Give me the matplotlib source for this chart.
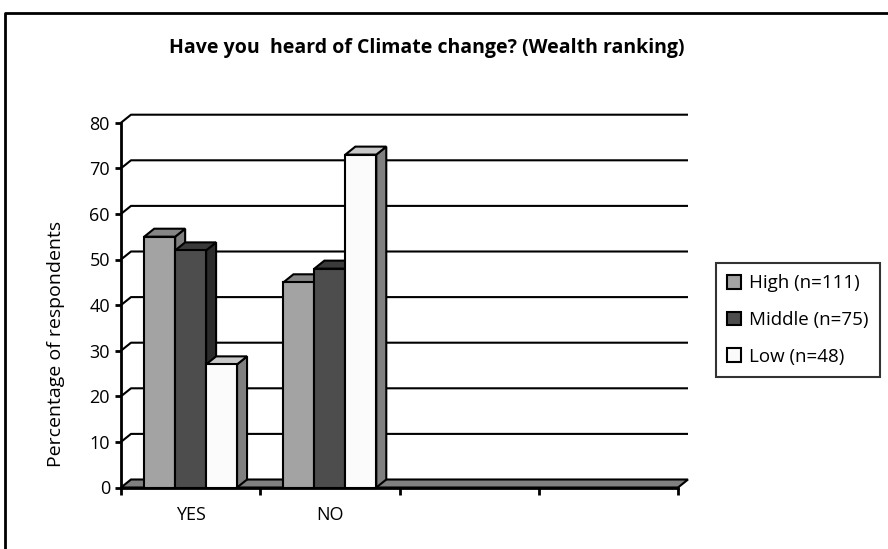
import matplotlib
matplotlib.use("Agg")
import matplotlib.pyplot as plt
from matplotlib.patches import Polygon, Patch
from matplotlib.lines import Line2D
from matplotlib.transforms import Bbox, TransformedBbox

# ---- data -------------------------------------------------------------
categories = ["YES", "NO", "", ""]
series_names = ["High (n=111)", "Middle (n=75)", "Low (n=48)"]
high = [55, 45]
middle = [52, 48]
low = [27, 73]
series_values = [high, middle, low]
y_ticks = [0, 10, 20, 30, 40, 50, 60, 70, 80]
title = "Have you  heard of Climate change? (Wealth ranking)"
y_label = "Percentage of respondents"

# ---- styling ----------------------------------------------------------
plt.rcParams["font.family"] = ["Open Sans", "DejaVu Sans"]
front_colors = ["#a3a3a3", "#4d4d4d", "#fbfbfb"]
side_colors = ["#7f7f7f", "#2b2b2b", "#808080"]
top_colors = ["#858585", "#3a3a3a", "#c8c8c8"]
floor_color = "#808080"
LW = 1.5

W, H = 888, 549
fig = plt.figure(figsize=(W / 100, H / 100), dpi=100)
fig.patch.set_facecolor("white")

x0_px, x1_px = 121, 678
y0_px, y1_px = 487.5, 122.7
ax = fig.add_axes([x0_px / W, (H - y0_px) / H, (x1_px - x0_px) / W, (y0_px - y1_px) / H])
ax.set_xlim(0, len(categories))
ax.set_ylim(0, 80)
ax.set_facecolor("none")

# depth of the pseudo-3D box, in data units
px_per_x = (x1_px - x0_px) / len(categories)
px_per_y = (y0_px - y1_px) / 80
DX = 10 / px_per_x
DY = 8 / px_per_y

# back wall gridlines with their diagonal link to the front axis
for yv in y_ticks[1:]:
    ax.plot([0, DX, len(categories) + DX], [yv, yv + DY, yv + DY],
            color="black", lw=LW, clip_on=False, zorder=1, solid_capstyle="butt")

# floor
ncat = len(categories)
floor = Polygon([(0, 0), (ncat, 0), (ncat + DX, DY), (DX, DY)], closed=True,
                facecolor=floor_color, edgecolor="black", lw=LW, clip_on=False,
                zorder=2, joinstyle="miter")
ax.add_patch(floor)

# 3D-looking bars (gap width 150%)
n_series = len(series_values)
bar_w = 1 / (n_series + 1.5)
start = 0.75 * bar_w
for ci in range(len(high)):
    for si in range(n_series):
        v = series_values[si][ci]
        a = ci + start + si * bar_w
        b = a + bar_w
        side = Polygon([(b, 0), (b + DX, DY), (b + DX, v + DY), (b, v)], closed=True,
                       facecolor=side_colors[si], edgecolor="black", lw=LW,
                       clip_on=False, zorder=3)
        top = Polygon([(a, v), (b, v), (b + DX, v + DY), (a + DX, v + DY)], closed=True,
                      facecolor=top_colors[si], edgecolor="black", lw=LW,
                      clip_on=False, zorder=3)
        front = Polygon([(a, 0), (b, 0), (b, v), (a, v)], closed=True,
                        facecolor=front_colors[si], edgecolor="black", lw=LW,
                        clip_on=False, zorder=3)
        ax.add_patch(side)
        ax.add_patch(top)
        ax.add_patch(front)

# axes
for s in ["top", "right"]:
    ax.spines[s].set_visible(False)
for s in ["left", "bottom"]:
    ax.spines[s].set_linewidth(2)
    ax.spines[s].set_zorder(4)

ax.set_yticks(y_ticks)
ax.set_yticklabels([str(t) for t in y_ticks])
ax.tick_params(axis="y", direction="out", length=4, width=2, pad=4, labelsize=13)

ax.set_xticks(range(ncat + 1))
ax.set_xticklabels([""] * (ncat + 1))
ax.set_xticks([i + 0.5 for i in range(ncat)], minor=True)
ax.set_xticklabels(categories, minor=True)
ax.tick_params(axis="x", which="major", direction="out", length=5, width=2)
ax.tick_params(axis="x", which="minor", length=0, pad=13, labelsize=13)

# title
fig.text(427 / W, 1 - 48 / H, title, ha="center", va="center",
         fontsize=14, fontweight="bold")

# y-axis label, cut off at the top like the chart area allows
yl = fig.text(56 / W, 82 / H, y_label, rotation=90, rotation_mode="anchor",
              ha="left", va="center", fontsize=14)
yl.set_clip_box(TransformedBbox(Bbox([[0, 0], [1, 1 - 163 / H]]), fig.transFigure))
yl.set_clip_on(True)

# legend
handles = [Patch(facecolor=c, edgecolor="black", lw=1.5) for c in front_colors]
leg = fig.legend(handles, series_names, loc="upper left",
                 bbox_to_anchor=(716 / W, 1 - 263 / H), fontsize=13.5,
                 frameon=True, fancybox=False, edgecolor="black",
                 handlelength=0.75, handleheight=0.75, handletextpad=0.4,
                 labelspacing=1.0, borderpad=0.6, borderaxespad=0)
leg.get_frame().set_linewidth(1.5)

# outer chart frame (open to the right and bottom edges)
fig.add_artist(Line2D([5 / W, 5 / W, 1], [0, 1 - 13 / H, 1 - 13 / H],
                      transform=fig.transFigure, color="black", lw=2))

fig.savefig("out.png", dpi=100)
